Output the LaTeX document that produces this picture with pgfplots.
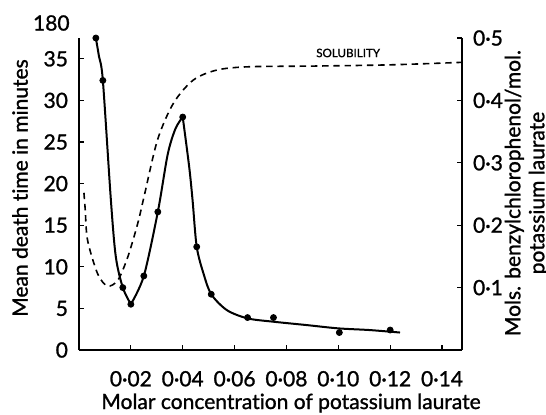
\documentclass[border=0pt]{standalone}
\usepackage{pgfplots}
\pgfplotsset{compat=1.18}
\usepackage{fontspec}
\setmainfont{Lato}[Ligatures=NoCommon, RawFeature={embolden=1.2}]
\begin{document}
\begin{tikzpicture}
\pgfplotsset{
  common/.style={
    scale only axis, width=191.5pt, height=156pt,
    xmin=0, xmax=0.1477,
    tick align=inside, major tick length=2.5pt,
    axis line style={-, line width=0.75pt},
    every tick/.style={line width=0.6pt, black},
    tick label style={font=\fontsize{10.5}{12}\selectfont},
    label style={font=\fontsize{10.5}{12}\selectfont},
  }
}
\begin{axis}[common, name=main,
  axis x line*=bottom, axis y line*=left,
  ymin=0, ymax=37.5, clip=false,
  xtick={0.02,0.04,0.06,0.08,0.10,0.12,0.14},
  xticklabels={0·02,0·04,0·06,0·08,0·10,0·12,0·14},
  ytick={0,5,10,15,20,25,30,35},
  yticklabels={0,5,10,15,20,25,30,35},
  xticklabel style={yshift=-7pt},
  yticklabel style={xshift=-2pt},
  ylabel={Mean death time in minutes},
  ylabel style={at={(axis description cs:-0.154,0.519)}, anchor=center},
]
\addplot[black, line width=1pt, smooth] coordinates {
 (0.0065,37.5) (0.0077,35.3) (0.0092,32.4) (0.0123,18) (0.0142,11.2) (0.0169,7.5) (0.02,5.5)};
\addplot[black, line width=1pt, smooth] coordinates {
 (0.02,5.5) (0.025,8.9) (0.0304,16.6) (0.0342,23.5) (0.0372,26.6) (0.04,28)};
\addplot[black, line width=1pt, smooth] coordinates {
 (0.04,28) (0.0425,22) (0.0438,18) (0.0454,12.4) (0.0481,9.1) (0.051,6.7) (0.057,4.8) (0.065,3.8) (0.075,3.4) (0.0877,3.0) (0.1,2.6) (0.112,2.4) (0.1238,2.1)};
\addplot[only marks, mark=*, mark size=1.5pt, black] coordinates {
 (0.0065,37.5) (0.0092,32.4) (0.0169,7.5) (0.02,5.5) (0.025,8.9) (0.0304,16.6) (0.04,28) (0.0454,12.4) (0.051,6.7) (0.065,3.9) (0.075,3.9) (0.1004,2.1) (0.12,2.4)};
\node[anchor=east, font=\fontsize{10.5}{12}\selectfont, inner sep=0pt] at ([xshift=-4.5pt, yshift=7.5pt]axis cs:0,37.5) {180};
\end{axis}
\begin{axis}[common,
  axis y line*=right, axis x line=none,
  ymin=0, ymax=0.5,
  ytick={0.1,0.2,0.3,0.4,0.5},
  yticklabels={0·1,0·2,0·3,0·4,0·5},
  yticklabel style={xshift=2pt},
  ylabel={Mols. benzylchlorophenol/mol.\\potassium laurate},
  ylabel style={align=center, at={(axis description cs:1.168,0.503)}, anchor=center},
]
\addplot[black, line width=0.8pt, dash pattern=on 3.2pt off 2.4pt, smooth] coordinates {
 (0.0019,0.252) (0.0024,0.225) (0.0033,0.176) (0.0072,0.122) (0.011,0.1026) (0.015,0.112) (0.0188,0.149) (0.0226,0.202) (0.0251,0.246) (0.0303,0.337) (0.0365,0.396) (0.0442,0.433) (0.0535,0.449) (0.066,0.454) (0.09,0.455) (0.12,0.457) (0.1477,0.461)};
\node[font=\fontsize{5.8}{7}\selectfont] at (axis cs:0.1038,0.476) {SOLUBILITY};
\end{axis}
\node[font=\fontsize{10.5}{12}\selectfont, anchor=base, inner sep=0pt] at ([xshift=106pt, yshift=-29.5pt]main.south west) {Molar concentration of potassium laurate};
\pgfresetboundingbox
\path (main.south west) ++(-39.5pt,-32pt) rectangle ++(273pt,207pt);
\end{tikzpicture}
\end{document}
